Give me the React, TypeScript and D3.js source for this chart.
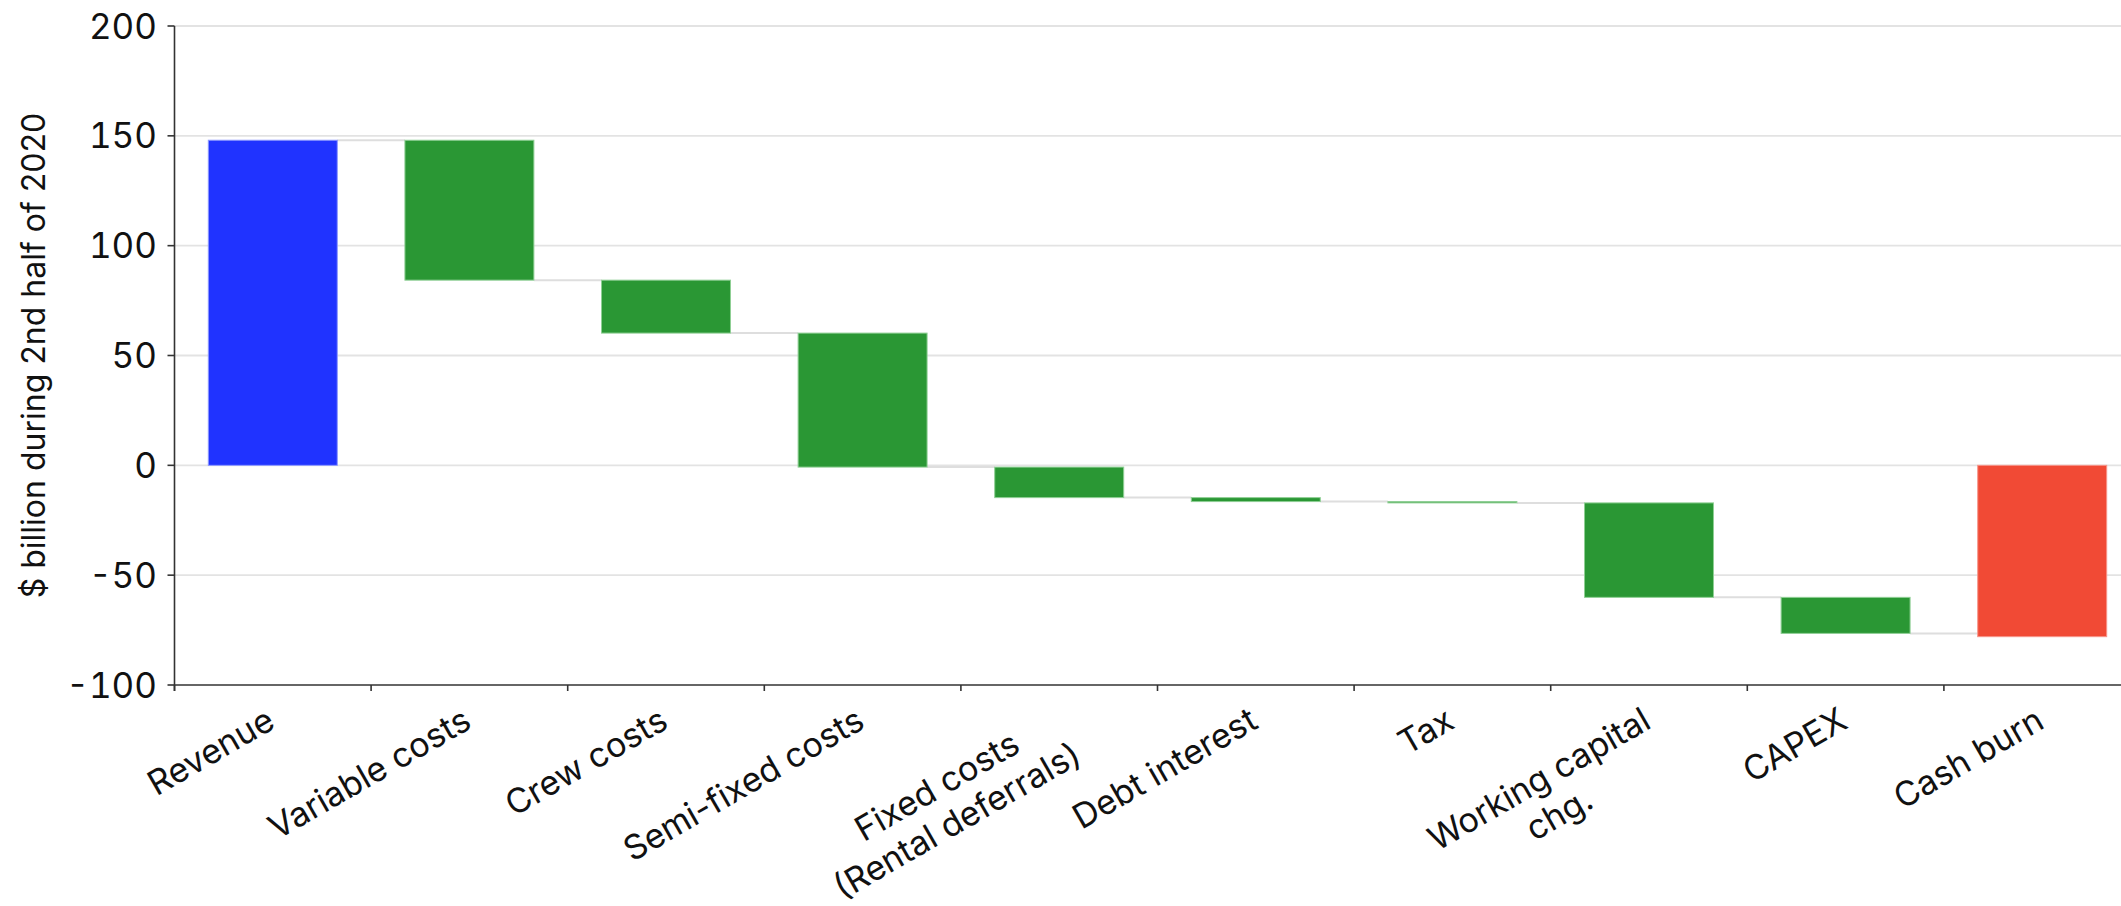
import React from "react";
import * as d3 from "d3";

const categories = [
  "Revenue",
  "Variable costs",
  "Crew costs",
  "Semi-fixed costs",
  "Fixed costs (Rental deferrals)",
  "Debt interest",
  "Tax",
  "Working capital chg.",
  "CAPEX",
  "Cash burn",
];
const tickLabels = [
  ["Revenue"],
  ["Variable costs"],
  ["Crew costs"],
  ["Semi-fixed costs"],
  ["Fixed costs", "(Rental deferrals)"],
  ["Debt interest"],
  ["Tax"],
  ["Working capital", "chg."],
  ["CAPEX"],
  ["Cash burn"],
];
const measures = ["absolute", "relative", "relative", "relative", "relative", "relative", "relative", "relative", "relative", "total"];
const values = [148, -63.7, -24.1, -61, -13.9, -1.8, -0.6, -43, -16.4, -78];
const yTicks = [-100, -50, 0, 50, 100, 150, 200];
const yTitle = "$ billion during 2nd half of 2020";

const W = 2121;
const H = 906;
const FONT = "Inter, 'Liberation Sans', Arial, sans-serif";

export default function App() {
  const left = 174.5;
  const top = 26;
  const bottom = 685;
  const step = 196.6;
  const right = left + step * categories.length;

  const x = d3.scaleBand<string>().domain(categories).range([left, right]).paddingInner(0.344).paddingOuter(0.172);
  const y = d3.scaleLinear().domain([-100, 200]).range([bottom, top]);

  let cum = 0;
  const bars = categories.map((c, i) => {
    const m = measures[i];
    let y0 = 0, y1 = 0;
    if (m === "absolute") { y0 = 0; y1 = values[i]; cum = values[i]; }
    else if (m === "relative") { y0 = cum; y1 = cum + values[i]; cum = y1; }
    else { y0 = 0; y1 = values[i]; }
    const color = m === "absolute" ? "#2033ff" : m === "total" ? "#f14a35" : "#2a9734";
    const stroke = m === "absolute" ? "#8d98ff" : m === "total" ? "#f7958a" : "#8fcf94";
    return { c, y0, y1, color, stroke, m };
  });

  const bw = x.bandwidth();
  const boundaries = d3.range(categories.length + 1).map((i) => left + i * step);

  return (
    <svg width={W} height={H} style={{ position: "absolute", left: 0, top: 0, display: "block", background: "#fff" }} fontFamily={FONT}>
      {yTicks.filter((t) => t !== -100).map((t) => (
        <line key={"g" + t} x1={left} x2={W} y1={y(t)} y2={y(t)} stroke="#e3e3e3" strokeWidth={1.8} />
      ))}
      {bars.slice(0, -1).map((b, i) => {
        const nx = x(categories[i + 1])!;
        const cx = x(b.c)! + bw;
        return <line key={"c" + i} x1={cx} x2={nx} y1={y(b.y1)} y2={y(b.y1)} stroke="#dedede" strokeWidth={2} />;
      })}
      {bars.map((b) => {
        const yt = y(Math.max(b.y0, b.y1));
        const yb = y(Math.min(b.y0, b.y1));
        return (
          <rect key={b.c} x={x(b.c)!} y={yt} width={bw} height={Math.max(1, yb - yt)} fill={b.color} stroke={b.stroke} strokeWidth={1} />
        );
      })}
      <line x1={left} x2={left} y1={top} y2={bottom + 6} stroke="#333" strokeWidth={1.6} />
      {yTicks.map((t) => (
        <g key={"yt" + t}>
          <line x1={left - 7} x2={left} y1={y(t)} y2={y(t)} stroke="#333" strokeWidth={1.6} />
          <text x={157} y={y(t)} dy="0.36em" textAnchor="end" fontSize={35} fill="#111" style={{ fontVariantNumeric: "tabular-nums" }}>
            {t < 0 ? "-" + Math.abs(t) : t}
          </text>
        </g>
      ))}
      <line x1={left} x2={W} y1={bottom} y2={bottom} stroke="#333" strokeWidth={1.6} />
      {boundaries.map((bx, i) => (
        <line key={"xt" + i} x1={bx} x2={bx} y1={bottom} y2={bottom + 6} stroke="#333" strokeWidth={1.6} />
      ))}
      {tickLabels.map((lines, i) => {
        const cx = x(categories[i])! + bw / 2 + 4;
        return (
          <g key={"xl" + i} transform={`translate(${cx},${bottom + 42}) rotate(-30)`}>
            <XLabel lines={lines} />
          </g>
        );
      })}
      <text transform={`translate(45,${(top + bottom) / 2}) rotate(-90)`} textAnchor="middle" fontSize={32} fill="#111">
        {yTitle}
      </text>
    </svg>
  );
}

function XLabel({ lines }: { lines: string[] }) {
  const fs = 34;
  const ref = React.useRef<SVGGElement>(null);
  const [maxW, setMaxW] = React.useState(0);
  React.useLayoutEffect(() => {
    if (!ref.current) return;
    const texts = ref.current.querySelectorAll("text");
    let m = 0;
    texts.forEach((t) => { m = Math.max(m, (t as SVGTextElement).getComputedTextLength()); });
    setMaxW(m);
  }, []);
  return (
    <g ref={ref}>
      {lines.map((l, j) => (
        <text key={j} x={-maxW / 2} y={j * 40} textAnchor="middle" fontSize={fs} fill="#111">
          {l}
        </text>
      ))}
    </g>
  );
}
